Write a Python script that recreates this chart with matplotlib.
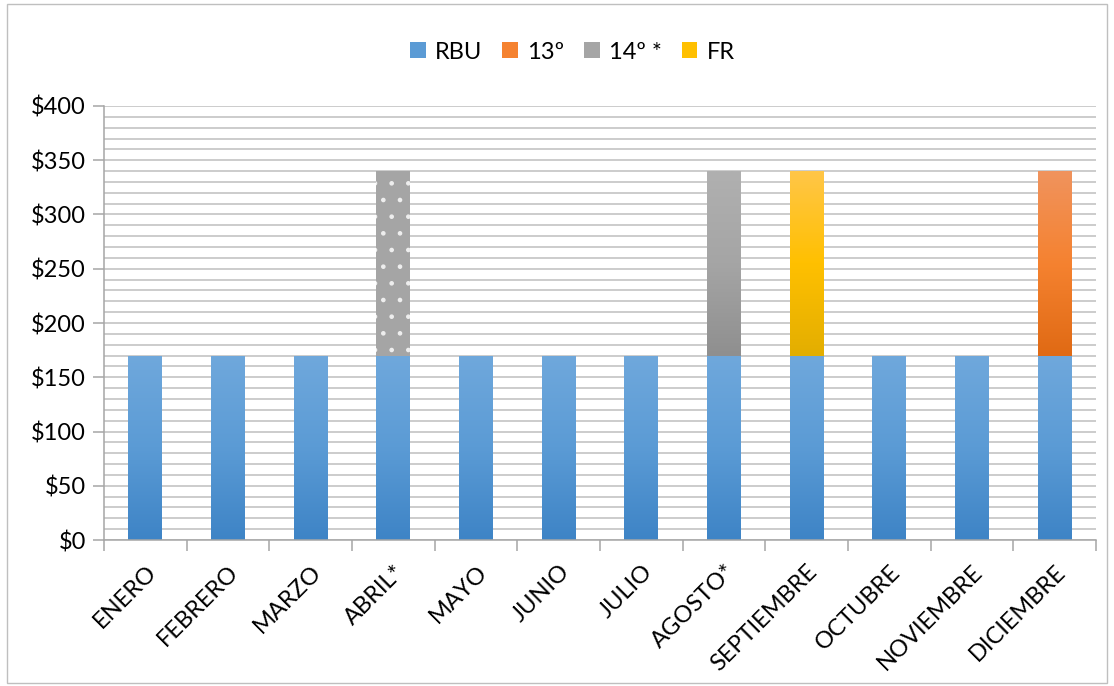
import numpy as np
import matplotlib.pyplot as plt
from matplotlib.colors import LinearSegmentedColormap
from matplotlib.ticker import MultipleLocator, FuncFormatter

meses = ['ENERO', 'FEBRERO', 'MARZO', 'ABRIL*', 'MAYO', 'JUNIO', 'JULIO',
         'AGOSTO*', 'SEPTIEMBRE', 'OCTUBRE', 'NOVIEMBRE', 'DICIEMBRE']
rbu = [170, 170, 170, 170, 170, 170, 170, 170, 170, 170, 170, 170]
decimo3 = [0, 0, 0, 0, 0, 0, 0, 0, 0, 0, 0, 170]
decimo4 = [0, 0, 0, 170, 0, 0, 0, 170, 0, 0, 0, 0]
fr = [0, 0, 0, 0, 0, 0, 0, 0, 170, 0, 0, 0]

plt.rcParams['font.family'] = ['Lato', 'DejaVu Sans']
plt.rcParams['hatch.linewidth'] = 0.9

fig = plt.figure(figsize=(11.14, 6.86), dpi=100)
ax = fig.add_axes([0.0934, 0.2128, 0.8905, 0.6327])

x = np.arange(len(meses))
w = 0.41

grad = {
    'RBU': ['#3E84C6', '#5B9BD5', '#6FA8DC'],
    '13': ['#E06A14', '#F58230', '#F0935D'],
    '14': ['#8F8F8F', '#A5A5A5', '#B0B0B0'],
    'FR': ['#E3AE00', '#FFC000', '#FFC647'],
}


def fill_gradient(bars, cols):
    cmap = LinearSegmentedColormap.from_list('g', cols)
    for b in bars:
        if b.get_height() <= 0:
            continue
        x0, y0 = b.get_x(), b.get_y()
        x1, y1 = x0 + b.get_width(), y0 + b.get_height()
        img = np.linspace(0, 1, 100).reshape(-1, 1)
        im = ax.imshow(img, cmap=cmap, origin='lower', aspect='auto',
                       extent=[x0, x1, y0, y1], zorder=2)
        im.set_clip_path(b)


b1 = ax.bar(x, rbu, w, color=grad['RBU'][1], label='RBU', zorder=2)
b2 = ax.bar(x, decimo3, w, bottom=rbu, color=grad['13'][1], label='13º', zorder=2)
b3 = ax.bar(x, decimo4, w, bottom=rbu, color=grad['14'][1], label='14º *', zorder=2)
b4 = ax.bar(x, fr, w, bottom=rbu, color=grad['FR'][1], label='FR', zorder=2)

fill_gradient(b1, grad['RBU'])
fill_gradient(b2, grad['13'])
fill_gradient([b3[7]], grad['14'])
fill_gradient(b4, grad['FR'])
# abril: gris con puntos
ax.bar(x[3], decimo4[3], w, bottom=rbu[3], color='#A5A5A5', zorder=2.5)
ax.bar(x[3], decimo4[3], w, bottom=rbu[3], color='none', edgecolor='#EEEEEE',
       hatch='.', linewidth=0, zorder=3)

ax.set_xlim(-0.5, len(meses) - 0.5)
ax.set_ylim(0, 400)
ax.yaxis.set_major_locator(MultipleLocator(50))
ax.yaxis.set_minor_locator(MultipleLocator(10))
ax.yaxis.set_major_formatter(FuncFormatter(lambda v, p: '$%d' % v))
ax.grid(axis='y', which='both', color='#BFBFBF', linewidth=1.1, zorder=0)
ax.set_axisbelow(True)

ax.set_xticks(x)
ax.set_xticklabels(meses, rotation=45, ha='right', rotation_mode='anchor',
                   fontsize=17)
ax.tick_params(axis='x', length=0, pad=15)
ax.set_xticks(np.arange(-0.5, len(meses)), minor=True)
ax.tick_params(axis='x', which='minor', length=8, color='#A6A6A6', width=1.1)
ax.tick_params(axis='y', which='major', length=8, color='#A6A6A6', width=1.1,
               labelsize=17, pad=5)
ax.tick_params(axis='y', which='minor', length=0)

for s in ['top', 'right']:
    ax.spines[s].set_visible(False)
for s in ['left', 'bottom']:
    ax.spines[s].set_color('#A6A6A6')
    ax.spines[s].set_linewidth(1.1)

handles = [b1, b2, b3, b4]
fig.legend(handles, ['RBU', '13º', '14º *', 'FR'], loc='center',
           bbox_to_anchor=(0.514, 0.924), ncol=4, frameon=False, fontsize=17,
           handlelength=0.65, handleheight=0.65, handletextpad=0.4,
           columnspacing=0.85)

fig.patches.append(plt.Rectangle((0.006, 0.004), 0.988, 0.99,
                                 transform=fig.transFigure, fill=False,
                                 edgecolor='#BFBFBF', linewidth=1))

fig.savefig('out.png', dpi=100)
